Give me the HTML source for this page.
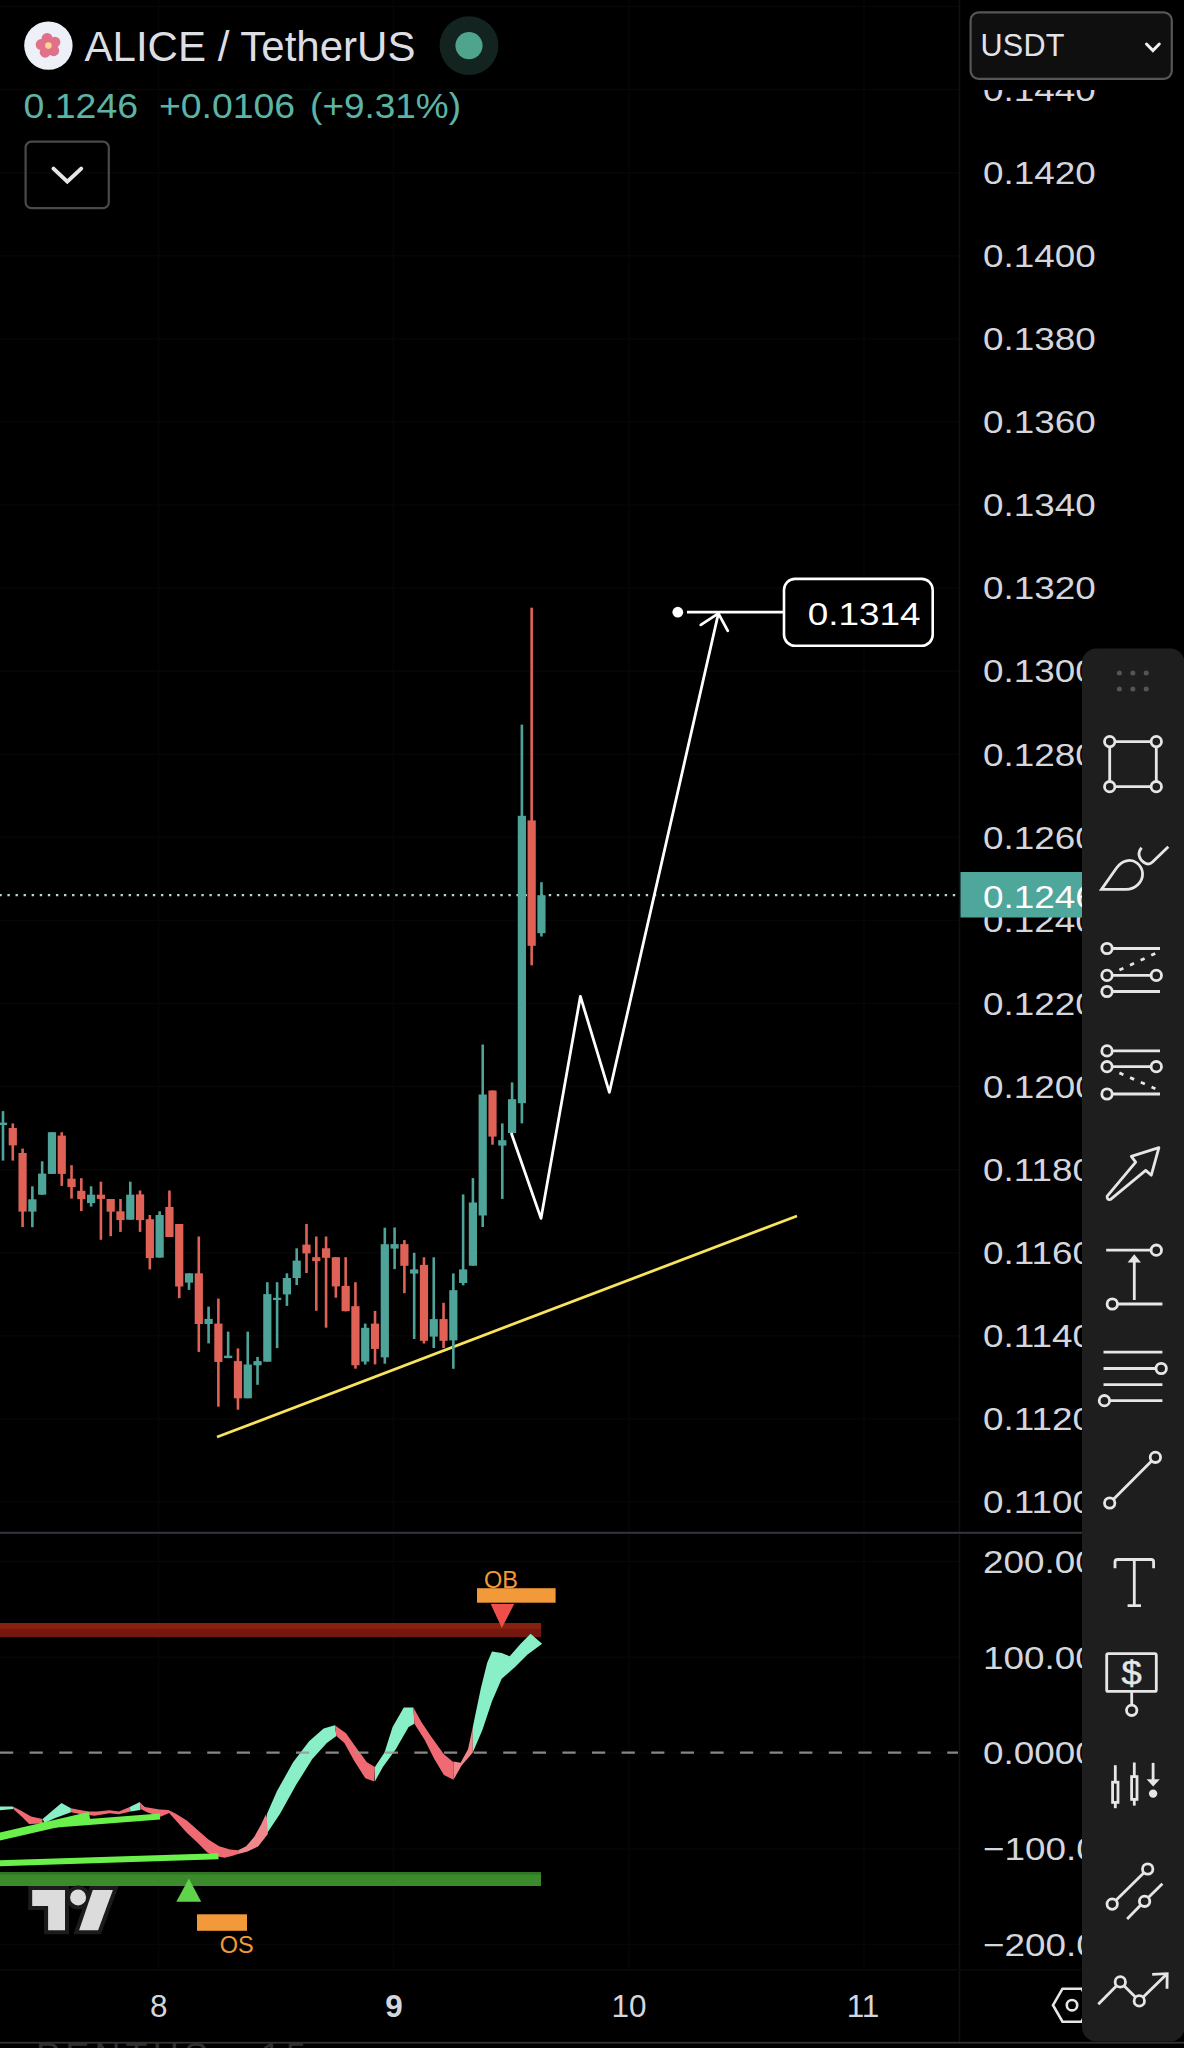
<!DOCTYPE html>
<html><head><meta charset="utf-8"><title>ALICE / TetherUS</title>
<style>
html,body{margin:0;padding:0;background:#000;}
body{width:1184px;height:2048px;overflow:hidden;font-family:"Liberation Sans",sans-serif;}
svg{display:block;font-family:"Liberation Sans",sans-serif;}
</style></head><body>
<svg width="1184" height="2048" viewBox="0 0 1184 2048">
<rect width="1184" height="2048" fill="#000"/>
<line x1="0" y1="6.5" x2="960" y2="6.5" stroke="#060607" stroke-width="1.5"/>
<line x1="0" y1="89.6" x2="960" y2="89.6" stroke="#060607" stroke-width="1.5"/>
<line x1="0" y1="172.7" x2="960" y2="172.7" stroke="#060607" stroke-width="1.5"/>
<line x1="0" y1="255.8" x2="960" y2="255.8" stroke="#060607" stroke-width="1.5"/>
<line x1="0" y1="338.9" x2="960" y2="338.9" stroke="#060607" stroke-width="1.5"/>
<line x1="0" y1="421.9" x2="960" y2="421.9" stroke="#060607" stroke-width="1.5"/>
<line x1="0" y1="505.0" x2="960" y2="505.0" stroke="#060607" stroke-width="1.5"/>
<line x1="0" y1="588.1" x2="960" y2="588.1" stroke="#060607" stroke-width="1.5"/>
<line x1="0" y1="671.2" x2="960" y2="671.2" stroke="#060607" stroke-width="1.5"/>
<line x1="0" y1="754.3" x2="960" y2="754.3" stroke="#060607" stroke-width="1.5"/>
<line x1="0" y1="837.3" x2="960" y2="837.3" stroke="#060607" stroke-width="1.5"/>
<line x1="0" y1="920.4" x2="960" y2="920.4" stroke="#060607" stroke-width="1.5"/>
<line x1="0" y1="1003.5" x2="960" y2="1003.5" stroke="#060607" stroke-width="1.5"/>
<line x1="0" y1="1086.6" x2="960" y2="1086.6" stroke="#060607" stroke-width="1.5"/>
<line x1="0" y1="1169.7" x2="960" y2="1169.7" stroke="#060607" stroke-width="1.5"/>
<line x1="0" y1="1252.7" x2="960" y2="1252.7" stroke="#060607" stroke-width="1.5"/>
<line x1="0" y1="1335.8" x2="960" y2="1335.8" stroke="#060607" stroke-width="1.5"/>
<line x1="0" y1="1418.9" x2="960" y2="1418.9" stroke="#060607" stroke-width="1.5"/>
<line x1="0" y1="1502.0" x2="960" y2="1502.0" stroke="#060607" stroke-width="1.5"/>
<line x1="0" y1="1561.4" x2="960" y2="1561.4" stroke="#060607" stroke-width="1.5"/>
<line x1="0" y1="1657.3" x2="960" y2="1657.3" stroke="#060607" stroke-width="1.5"/>
<line x1="0" y1="1753.1" x2="960" y2="1753.1" stroke="#060607" stroke-width="1.5"/>
<line x1="0" y1="1849.0" x2="960" y2="1849.0" stroke="#060607" stroke-width="1.5"/>
<line x1="0" y1="1944.5" x2="960" y2="1944.5" stroke="#060607" stroke-width="1.5"/>
<line x1="158.5" y1="0" x2="158.5" y2="1970" stroke="#060607" stroke-width="1.5"/>
<line x1="393.5" y1="0" x2="393.5" y2="1970" stroke="#060607" stroke-width="1.5"/>
<line x1="629" y1="0" x2="629" y2="1970" stroke="#060607" stroke-width="1.5"/>
<line x1="864" y1="0" x2="864" y2="1970" stroke="#060607" stroke-width="1.5"/>
<line x1="959.5" y1="0" x2="959.5" y2="2043" stroke="#0f1013" stroke-width="1.5"/>
<line x1="0" y1="1970" x2="1184" y2="1970" stroke="#0a0a0c" stroke-width="1.5"/>
<line x1="-0.66" y1="895.2" x2="958" y2="895.2" stroke="#b4dad4" stroke-width="2.3" stroke-dasharray="2.4 5.68"/>
<line x1="217" y1="1437" x2="797" y2="1216" stroke="#f7e35c" stroke-width="2.8"/>
<rect x="1.70" y="1111.1" width="2.6" height="49.5" fill="#4fa49a"/>
<rect x="-1.10" y="1122.6" width="8.2" height="2.4" fill="#4fa49a"/>
<rect x="11.49" y="1123.4" width="2.6" height="37.2" fill="#e06257"/>
<rect x="8.69" y="1128.0" width="8.2" height="17.4" fill="#e06257"/>
<rect x="21.28" y="1148.6" width="2.6" height="78.5" fill="#e06257"/>
<rect x="18.48" y="1153.0" width="8.2" height="58.6" fill="#e06257"/>
<rect x="31.07" y="1186.3" width="2.6" height="40.9" fill="#4fa49a"/>
<rect x="28.27" y="1199.3" width="8.2" height="12.3" fill="#4fa49a"/>
<rect x="40.86" y="1161.3" width="2.6" height="33.4" fill="#4fa49a"/>
<rect x="38.06" y="1173.6" width="8.2" height="21.1" fill="#4fa49a"/>
<rect x="50.65" y="1132.2" width="2.6" height="41.7" fill="#4fa49a"/>
<rect x="47.85" y="1132.2" width="8.2" height="41.7" fill="#4fa49a"/>
<rect x="60.44" y="1132.2" width="2.6" height="53.7" fill="#e06257"/>
<rect x="57.64" y="1135.6" width="8.2" height="38.3" fill="#e06257"/>
<rect x="70.23" y="1165.2" width="2.6" height="33.4" fill="#e06257"/>
<rect x="67.43" y="1178.7" width="8.2" height="8.4" fill="#e06257"/>
<rect x="80.02" y="1178.2" width="2.6" height="32.9" fill="#e06257"/>
<rect x="77.22" y="1190.8" width="8.2" height="8.4" fill="#e06257"/>
<rect x="89.81" y="1186.3" width="2.6" height="20.3" fill="#4fa49a"/>
<rect x="87.01" y="1194.7" width="8.2" height="8.4" fill="#4fa49a"/>
<rect x="99.60" y="1181.7" width="2.6" height="58.1" fill="#e06257"/>
<rect x="96.80" y="1194.7" width="8.2" height="4.2" fill="#e06257"/>
<rect x="109.39" y="1199.0" width="2.6" height="37.2" fill="#e06257"/>
<rect x="106.59" y="1199.0" width="8.2" height="12.7" fill="#e06257"/>
<rect x="119.18" y="1199.0" width="2.6" height="32.9" fill="#e06257"/>
<rect x="116.38" y="1211.3" width="8.2" height="8.8" fill="#e06257"/>
<rect x="128.97" y="1181.7" width="2.6" height="38.0" fill="#4fa49a"/>
<rect x="126.17" y="1194.7" width="8.2" height="25.0" fill="#4fa49a"/>
<rect x="138.76" y="1190.5" width="2.6" height="41.4" fill="#e06257"/>
<rect x="135.96" y="1194.4" width="8.2" height="25.7" fill="#e06257"/>
<rect x="148.55" y="1215.0" width="2.6" height="54.4" fill="#e06257"/>
<rect x="145.75" y="1219.2" width="8.2" height="38.9" fill="#e06257"/>
<rect x="158.34" y="1211.3" width="2.6" height="46.3" fill="#4fa49a"/>
<rect x="155.54" y="1215.0" width="8.2" height="42.6" fill="#4fa49a"/>
<rect x="168.13" y="1190.5" width="2.6" height="46.5" fill="#e06257"/>
<rect x="165.33" y="1206.9" width="8.2" height="30.1" fill="#e06257"/>
<rect x="177.92" y="1224.0" width="2.6" height="74.2" fill="#e06257"/>
<rect x="175.12" y="1224.0" width="8.2" height="62.5" fill="#e06257"/>
<rect x="187.71" y="1273.3" width="2.6" height="16.6" fill="#4fa49a"/>
<rect x="184.91" y="1273.3" width="8.2" height="9.3" fill="#4fa49a"/>
<rect x="197.50" y="1236.5" width="2.6" height="115.4" fill="#e06257"/>
<rect x="194.70" y="1273.3" width="8.2" height="50.7" fill="#e06257"/>
<rect x="207.29" y="1306.6" width="2.6" height="36.8" fill="#4fa49a"/>
<rect x="204.49" y="1318.9" width="8.2" height="5.1" fill="#4fa49a"/>
<rect x="217.08" y="1298.6" width="2.6" height="108.1" fill="#e06257"/>
<rect x="214.28" y="1323.6" width="8.2" height="38.3" fill="#e06257"/>
<rect x="226.87" y="1331.6" width="2.6" height="26.5" fill="#4fa49a"/>
<rect x="224.07" y="1355.7" width="8.2" height="2.4" fill="#4fa49a"/>
<rect x="236.66" y="1348.4" width="2.6" height="61.3" fill="#e06257"/>
<rect x="233.86" y="1361.1" width="8.2" height="37.2" fill="#e06257"/>
<rect x="246.45" y="1331.6" width="2.6" height="66.7" fill="#4fa49a"/>
<rect x="243.65" y="1364.5" width="8.2" height="33.8" fill="#4fa49a"/>
<rect x="256.24" y="1356.9" width="2.6" height="27.9" fill="#4fa49a"/>
<rect x="253.44" y="1361.1" width="8.2" height="4.2" fill="#4fa49a"/>
<rect x="266.03" y="1282.2" width="2.6" height="79.4" fill="#4fa49a"/>
<rect x="263.23" y="1294.1" width="8.2" height="67.6" fill="#4fa49a"/>
<rect x="275.82" y="1282.2" width="2.6" height="65.9" fill="#4fa49a"/>
<rect x="273.02" y="1297.8" width="8.2" height="2.2" fill="#4fa49a"/>
<rect x="285.61" y="1273.3" width="2.6" height="32.6" fill="#4fa49a"/>
<rect x="282.81" y="1278.0" width="8.2" height="16.4" fill="#4fa49a"/>
<rect x="295.40" y="1248.3" width="2.6" height="36.8" fill="#4fa49a"/>
<rect x="292.60" y="1260.6" width="8.2" height="17.4" fill="#4fa49a"/>
<rect x="305.19" y="1224.0" width="2.6" height="49.0" fill="#e06257"/>
<rect x="302.39" y="1244.6" width="8.2" height="8.8" fill="#e06257"/>
<rect x="314.98" y="1236.5" width="2.6" height="74.3" fill="#e06257"/>
<rect x="312.18" y="1257.2" width="8.2" height="3.9" fill="#e06257"/>
<rect x="324.77" y="1236.5" width="2.6" height="91.2" fill="#e06257"/>
<rect x="321.97" y="1248.3" width="8.2" height="9.5" fill="#e06257"/>
<rect x="334.56" y="1257.2" width="2.6" height="40.5" fill="#e06257"/>
<rect x="331.76" y="1257.2" width="8.2" height="29.2" fill="#e06257"/>
<rect x="344.35" y="1257.2" width="2.6" height="54.1" fill="#e06257"/>
<rect x="341.55" y="1285.9" width="8.2" height="25.3" fill="#e06257"/>
<rect x="354.14" y="1282.2" width="2.6" height="86.5" fill="#e06257"/>
<rect x="351.34" y="1306.2" width="8.2" height="59.1" fill="#e06257"/>
<rect x="363.93" y="1323.6" width="2.6" height="40.9" fill="#4fa49a"/>
<rect x="361.13" y="1327.8" width="8.2" height="33.8" fill="#4fa49a"/>
<rect x="373.72" y="1310.9" width="2.6" height="53.5" fill="#e06257"/>
<rect x="370.92" y="1323.6" width="8.2" height="25.3" fill="#e06257"/>
<rect x="383.51" y="1227.7" width="2.6" height="136.0" fill="#4fa49a"/>
<rect x="380.71" y="1244.2" width="8.2" height="113.2" fill="#4fa49a"/>
<rect x="393.30" y="1227.5" width="2.6" height="41.6" fill="#4fa49a"/>
<rect x="390.50" y="1244.1" width="8.2" height="4.5" fill="#4fa49a"/>
<rect x="403.09" y="1240.1" width="2.6" height="53.1" fill="#e06257"/>
<rect x="400.29" y="1244.1" width="8.2" height="21.7" fill="#e06257"/>
<rect x="412.88" y="1252.8" width="2.6" height="86.2" fill="#4fa49a"/>
<rect x="410.08" y="1269.4" width="8.2" height="4.2" fill="#4fa49a"/>
<rect x="422.67" y="1257.3" width="2.6" height="86.2" fill="#e06257"/>
<rect x="419.87" y="1264.9" width="8.2" height="75.9" fill="#e06257"/>
<rect x="432.46" y="1257.3" width="2.6" height="90.7" fill="#4fa49a"/>
<rect x="429.66" y="1319.1" width="8.2" height="17.5" fill="#4fa49a"/>
<rect x="442.25" y="1302.8" width="2.6" height="45.2" fill="#e06257"/>
<rect x="439.45" y="1319.1" width="8.2" height="21.7" fill="#e06257"/>
<rect x="452.04" y="1273.4" width="2.6" height="95.4" fill="#4fa49a"/>
<rect x="449.24" y="1290.2" width="8.2" height="50.2" fill="#4fa49a"/>
<rect x="461.83" y="1194.4" width="2.6" height="90.9" fill="#4fa49a"/>
<rect x="459.03" y="1269.4" width="8.2" height="13.6" fill="#4fa49a"/>
<rect x="471.62" y="1178.1" width="2.6" height="87.6" fill="#4fa49a"/>
<rect x="468.82" y="1202.5" width="8.2" height="63.2" fill="#4fa49a"/>
<rect x="481.41" y="1044.5" width="2.6" height="182.5" fill="#4fa49a"/>
<rect x="478.61" y="1094.5" width="8.2" height="121.0" fill="#4fa49a"/>
<rect x="491.20" y="1090.5" width="2.6" height="54.2" fill="#e06257"/>
<rect x="488.40" y="1090.5" width="8.2" height="46.1" fill="#e06257"/>
<rect x="500.99" y="1123.4" width="2.6" height="75.5" fill="#4fa49a"/>
<rect x="498.19" y="1140.2" width="8.2" height="5.4" fill="#4fa49a"/>
<rect x="510.78" y="1082.4" width="2.6" height="51.5" fill="#4fa49a"/>
<rect x="507.98" y="1099.2" width="8.2" height="33.8" fill="#4fa49a"/>
<rect x="520.57" y="724.6" width="2.6" height="398.8" fill="#4fa49a"/>
<rect x="517.77" y="815.8" width="8.2" height="287.4" fill="#4fa49a"/>
<rect x="530.36" y="607.7" width="2.6" height="357.6" fill="#e06257"/>
<rect x="527.56" y="820.4" width="8.2" height="125.4" fill="#e06257"/>
<rect x="540.15" y="882.2" width="2.6" height="54.3" fill="#4fa49a"/>
<rect x="537.35" y="895.2" width="8.2" height="38.0" fill="#4fa49a"/>
<polyline points="511.6,1134 541,1218.4 580.4,996.3 609.4,1092.3 718.2,614.2" fill="none" stroke="#ffffff" stroke-width="2.8" stroke-linejoin="round" stroke-linecap="round"/>
<polyline points="700.8,624.9 718.4,613.4 727.8,630.8" fill="none" stroke="#ffffff" stroke-width="2.8" stroke-linejoin="miter" stroke-linecap="round"/>
<circle cx="677.8" cy="612.2" r="5.4" fill="#fff"/>
<line x1="687" y1="612.2" x2="784" y2="612.2" stroke="#fff" stroke-width="2.8"/>
<rect x="784" y="578.9" width="148.7" height="66.8" rx="11" ry="11" fill="#000" stroke="#fff" stroke-width="2.6"/>
<text transform="scale(1.152,1)" x="701.22" y="625.4" font-size="32" fill="#ffffff">0.1314</text>
<rect x="0" y="1531.8" width="1184" height="2" fill="#34353f"/>
<rect x="0" y="1623" width="541" height="14" fill="#75170e"/>
<rect x="0" y="1623" width="541" height="6" fill="#86200f"/>
<rect x="0" y="1872" width="541" height="14" fill="#3b8a2c"/>
<rect x="0" y="1872" width="541" height="2.5" fill="#2f7524"/>
<polygon points="0.0,1806.5 12.8,1806.5 13.5,1808.9 0.0,1810.3" fill="#88efc6"/>
<polygon points="12.8,1806.5 20.3,1810.3 31.1,1816.4 42.6,1819.1 42.2,1823.5 29.1,1824.1 21.6,1816.4 13.5,1809.2" fill="#ef6a73"/>
<polygon points="42.6,1819.1 61.5,1803.1 70.9,1808.2 70.9,1812.3 54.1,1818.4 44.6,1823.1" fill="#88efc6"/>
<polygon points="70.9,1808.2 81.1,1810.3 89.2,1811.4 97.3,1811.6 109.5,1810.3 118.9,1811.4 129.7,1806.9 130.4,1811.6 118.9,1814.3 109.5,1813.2 94.6,1815.7 81.1,1814.3 70.9,1812.3" fill="#ef6a73"/>
<polygon points="129.7,1806.9 139.9,1801.9 140.5,1810.0 130.4,1811.6" fill="#88efc6"/>
<polygon points="139.7,1802.3 144.9,1807.0 159.7,1809.5 168.5,1810.0 175.9,1813.8 186.8,1820.5 197.6,1830.0 208.4,1839.5 219.2,1846.2 230.0,1849.6 238.1,1850.3 238.1,1854.1 232.7,1855.7 224.6,1857.7 213.8,1855.7 207.0,1852.3 197.6,1842.8 186.8,1832.7 175.9,1820.5 169.2,1813.1 160.4,1816.8 147.6,1812.4 140.8,1809.1" fill="#ef6a73"/>
<polygon points="238.1,1850.3 246.2,1846.2 254.3,1836.8 261.1,1824.6 265.8,1814.5 267.8,1820.5 267.8,1834.1 258.4,1846.2 247.6,1851.6 238.1,1854.1" fill="#f0878d"/>
<polygon points="266.8,1814.2 277.0,1791.1 293.1,1762.2 309.1,1741.3 323.6,1728.5 334.8,1725.3 336.4,1735.9 326.8,1742.9 312.3,1759.0 296.3,1784.6 280.2,1813.5 267.4,1832.8" fill="#88efc6"/>
<polygon points="334.8,1725.3 346.0,1733.3 357.3,1749.3 366.9,1762.2 374.9,1767.0 374.3,1781.4 365.3,1778.2 354.0,1760.6 344.4,1742.9 336.4,1735.9" fill="#ef6a73"/>
<polygon points="374.9,1767.0 384.5,1752.6 392.6,1726.9 403.8,1707.6 413.4,1707.6 414.4,1723.7 408.6,1726.9 395.8,1749.3 382.9,1767.0 374.9,1781.4" fill="#88efc6"/>
<polygon points="413.4,1707.6 421.4,1722.1 431.1,1736.5 443.9,1754.2 453.5,1762.2 453.5,1779.8 443.9,1775.0 434.3,1759.0 424.6,1739.7 414.4,1723.7" fill="#ef6a73"/>
<polygon points="453.5,1761.5 460.6,1762.8 468.0,1749.3 472.8,1726.9 472.8,1752.6 461.6,1765.4 453.5,1779.8" fill="#f0878d"/>
<polygon points="472.8,1726.9 480.8,1688.4 487.2,1662.7 492.0,1651.5 501.7,1653.1 509.7,1656.3 520.9,1643.4 530.6,1633.8 541.8,1643.4 541.8,1644.1 527.3,1654.7 514.5,1667.5 501.7,1678.7 492.0,1701.2 482.4,1730.1 472.8,1752.6" fill="#88efc6"/>
<line x1="0" y1="1752.6" x2="958" y2="1752.6" stroke="#9a9a9a" stroke-opacity="0.88" stroke-width="2.4" stroke-dasharray="13.2 16.4"/>
<line x1="-2" y1="1836.96" x2="89.5" y2="1815.9" stroke="#6af04a" stroke-width="7.8"/>
<line x1="40" y1="1825.8" x2="160" y2="1816.4" stroke="#6af04a" stroke-width="6"/>
<line x1="-2" y1="1863.2" x2="218.5" y2="1856.3" stroke="#6af04a" stroke-width="6"/>
<rect x="477" y="1588.2" width="78.6" height="14.5" fill="#f29a3a"/>
<text x="484" y="1588" font-size="23.5" fill="#f29a3a">OB</text>
<polygon points="490.7,1604 514.2,1604 501.8,1628" fill="#ee4f4a"/>
<polygon points="176.3,1901.7 201.2,1901.7 188.9,1878.5" fill="#5fd44a"/>
<rect x="197" y="1914.3" width="50" height="16.5" fill="#f29a3a"/>
<text x="219.8" y="1952.8" font-size="23.5" fill="#f29a3a">OS</text>
<g stroke="#1b1b1b" stroke-width="8" stroke-linejoin="miter" fill="#1b1b1b"><path d="M32.2 1890H65V1930.2H48.1V1905.9H32.2Z"/><circle cx="78.1" cy="1897.4" r="8"/><path d="M92.8 1890H112.9L98.1 1930.2H79.1Z"/></g>
<g fill="#dcdcdc"><path d="M32.2 1890H65V1930.2H48.1V1905.9H32.2Z"/><circle cx="78.1" cy="1897.4" r="8"/><path d="M92.8 1890H112.9L98.1 1930.2H79.1Z"/></g>
<text transform="scale(1.152,1)" x="853.30" y="100.9" font-size="32" fill="#d4d6dd">0.1440</text>
<text transform="scale(1.152,1)" x="853.30" y="184.0" font-size="32" fill="#d4d6dd">0.1420</text>
<text transform="scale(1.152,1)" x="853.30" y="267.1" font-size="32" fill="#d4d6dd">0.1400</text>
<text transform="scale(1.152,1)" x="853.30" y="350.2" font-size="32" fill="#d4d6dd">0.1380</text>
<text transform="scale(1.152,1)" x="853.30" y="433.2" font-size="32" fill="#d4d6dd">0.1360</text>
<text transform="scale(1.152,1)" x="853.30" y="516.3" font-size="32" fill="#d4d6dd">0.1340</text>
<text transform="scale(1.152,1)" x="853.30" y="599.4" font-size="32" fill="#d4d6dd">0.1320</text>
<text transform="scale(1.152,1)" x="853.30" y="682.5" font-size="32" fill="#d4d6dd">0.1300</text>
<text transform="scale(1.152,1)" x="853.30" y="765.6" font-size="32" fill="#d4d6dd">0.1280</text>
<text transform="scale(1.152,1)" x="853.30" y="848.6" font-size="32" fill="#d4d6dd">0.1260</text>
<text transform="scale(1.152,1)" x="853.30" y="931.7" font-size="32" fill="#d4d6dd">0.1240</text>
<text transform="scale(1.152,1)" x="853.30" y="1014.8" font-size="32" fill="#d4d6dd">0.1220</text>
<text transform="scale(1.152,1)" x="853.30" y="1097.9" font-size="32" fill="#d4d6dd">0.1200</text>
<text transform="scale(1.152,1)" x="853.30" y="1181.0" font-size="32" fill="#d4d6dd">0.1180</text>
<text transform="scale(1.152,1)" x="853.30" y="1264.0" font-size="32" fill="#d4d6dd">0.1160</text>
<text transform="scale(1.152,1)" x="853.30" y="1347.1" font-size="32" fill="#d4d6dd">0.1140</text>
<text transform="scale(1.152,1)" x="853.30" y="1430.2" font-size="32" fill="#d4d6dd">0.1120</text>
<text transform="scale(1.152,1)" x="853.30" y="1513.3" font-size="32" fill="#d4d6dd">0.1100</text>
<rect x="960.5" y="872" width="224" height="45.5" fill="#4fa69b"/>
<text transform="scale(1.152,1)" x="853.30" y="908.3" font-size="32" fill="#ffffff">0.1246</text>
<text transform="scale(1.152,1)" x="853.30" y="1572.7" font-size="32" fill="#d4d6dd">200.00</text>
<text transform="scale(1.152,1)" x="853.30" y="1668.6" font-size="32" fill="#d4d6dd">100.00</text>
<text transform="scale(1.152,1)" x="853.30" y="1764.4" font-size="32" fill="#d4d6dd">0.0000</text>
<text transform="scale(1.152,1)" x="853.30" y="1860.3" font-size="32" fill="#d4d6dd">−100.0</text>
<text transform="scale(1.152,1)" x="853.30" y="1955.8" font-size="32" fill="#d4d6dd">−200.0</text>
<text x="158.8" y="2017.3" font-size="31.5" fill="#d4d6dd" text-anchor="middle">8</text>
<text x="394" y="2017.3" font-size="31.5" fill="#d4d6dd" text-anchor="middle" font-weight="bold">9</text>
<text x="629" y="2017.3" font-size="31.5" fill="#d4d6dd" text-anchor="middle">10</text>
<text x="863" y="2017.3" font-size="31.5" fill="#d4d6dd" text-anchor="middle">11</text>
<polygon points="1091.0,2005.2 1081.5,2021.7 1062.5,2021.7 1053.0,2005.2 1062.5,1988.7 1081.5,1988.7" fill="none" stroke="#e6e6e6" stroke-width="2.6"/>
<circle cx="1072" cy="2005.2" r="5.2" fill="none" stroke="#e6e6e6" stroke-width="2.6"/>
<rect x="0" y="2041.8" width="1184" height="1.8" fill="#343434"/>
<text x="36" y="2069" font-size="36" fill="#303030" textLength="270" lengthAdjust="spacing">PENTUS · 15</text>
<circle cx="48.4" cy="45.6" r="24.2" fill="#eef0f7"/>
<circle cx="47.13" cy="38.41" r="5.5" fill="#e0718a"/><circle cx="54.85" cy="42.17" r="5.5" fill="#e0718a"/><circle cx="53.65" cy="50.67" r="5.5" fill="#e0718a"/><circle cx="45.20" cy="52.16" r="5.5" fill="#e0718a"/><circle cx="41.17" cy="44.58" r="5.5" fill="#e0718a"/><circle cx="48.4" cy="45.6" r="3.3" fill="#fbd48f"/>
<text x="84.5" y="61.3" font-size="43" fill="#dddee4" textLength="331" lengthAdjust="spacingAndGlyphs">ALICE / TetherUS</text>
<circle cx="469" cy="45.6" r="29.4" fill="#13231f"/><circle cx="469" cy="45.6" r="13.6" fill="#4ea48c"/>
<text x="23.5" y="118.4" font-size="35" fill="#5db4a5" textLength="114.6" lengthAdjust="spacingAndGlyphs">0.1246</text>
<text x="158.9" y="118.4" font-size="35" fill="#5db4a5" textLength="136.2" lengthAdjust="spacingAndGlyphs">+0.0106</text>
<text x="310.1" y="118.4" font-size="35" fill="#5db4a5" textLength="150.9" lengthAdjust="spacingAndGlyphs">(+9.31%)</text>
<rect x="25.6" y="141.6" width="83.2" height="66.6" rx="6" fill="none" stroke="#4a4a4a" stroke-width="2.2"/>
<polyline points="53.5,168.6 67.3,181.6 81.2,168.6" fill="none" stroke="#e6e6e6" stroke-width="4" stroke-linecap="round" stroke-linejoin="miter"/>
<rect x="961" y="0" width="223" height="90" fill="#000"/>
<rect x="970.6" y="12.4" width="201.2" height="66.4" rx="8" fill="#0f0f0f" stroke="#565656" stroke-width="2.2"/>
<text x="980.5" y="56.2" font-size="30.6" fill="#e2e3e8" textLength="84" lengthAdjust="spacing">USDT</text>
<polyline points="1146.5,44 1152.9,50.6 1159.3,44" fill="none" stroke="#f0f0f0" stroke-width="3" stroke-linecap="round" stroke-linejoin="miter"/>
<rect x="1082" y="648.5" width="102.7" height="1393" rx="14.5" fill="#1e1e1e"/>
<circle cx="1119.4" cy="672.9" r="2.5" fill="#555"/>
<circle cx="1132.9" cy="672.9" r="2.5" fill="#555"/>
<circle cx="1146.2" cy="672.9" r="2.5" fill="#555"/>
<circle cx="1119.4" cy="688.9" r="2.5" fill="#555"/>
<circle cx="1132.9" cy="688.9" r="2.5" fill="#555"/>
<circle cx="1146.2" cy="688.9" r="2.5" fill="#555"/>
<g fill="none" stroke="#e6e6e6" stroke-width="2.8"><circle cx="1109.7" cy="741.6" r="5.2"/><circle cx="1156.3" cy="741.6" r="5.2"/><circle cx="1109.7" cy="786.7" r="5.2"/><circle cx="1156.3" cy="786.7" r="5.2"/><line x1="1115" y1="741.6" x2="1151" y2="741.6" /><line x1="1115" y1="786.7" x2="1151" y2="786.7" /><line x1="1109.7" y1="747" x2="1109.7" y2="781.4" /><line x1="1156.3" y1="747" x2="1156.3" y2="781.4" /><path d="M1101.5 889.4 L1116.5 868 C1122 860 1131 858.5 1137 863 C1144 868.5 1144.5 878 1138 884.5 C1134.5 888 1130 889.4 1126 889.4 Z"/><path d="M1141.6 847.8 C1137 853 1139 859 1144 862.5 C1147 864.6 1150 864.5 1152.5 862 L1168.3 846.8"/><circle cx="1107" cy="948.5" r="5.2"/><line x1="1112.5" y1="948.5" x2="1160" y2="948.5" /><line x1="1119.4" y1="970.1" x2="1155.4" y2="953.4" stroke-dasharray="4.4 7.3"/><circle cx="1107" cy="975.4" r="5.2"/><circle cx="1156.3" cy="975.4" r="5.2"/><line x1="1112.5" y1="975.4" x2="1151" y2="975.4" /><circle cx="1107" cy="991.5" r="5.2"/><line x1="1112.5" y1="991.5" x2="1160" y2="991.5" /><circle cx="1107" cy="1050.9" r="5.2"/><line x1="1112.5" y1="1050.9" x2="1160" y2="1050.9" /><circle cx="1107" cy="1066.7" r="5.2"/><circle cx="1156.3" cy="1066.7" r="5.2"/><line x1="1112.5" y1="1066.7" x2="1151" y2="1066.7" /><line x1="1119.4" y1="1072.9" x2="1155.4" y2="1088.7" stroke-dasharray="4.4 7.3"/><circle cx="1107" cy="1094" r="5.2"/><line x1="1112.5" y1="1094" x2="1160" y2="1094" /><path d="M1107.2 1196.2 L1135.7 1162.2 L1131.3 1156.4 L1158.9 1147.6 L1151.3 1175.2 L1145.7 1170.4 L1110.6 1199.4 Q1106.5 1200.2 1107.2 1196.2 Z" stroke-linejoin="round"/><line x1="1106.2" y1="1250.2" x2="1151" y2="1250.2" /><circle cx="1156.3" cy="1250.2" r="5.2"/><path d="M1134.3 1254.3 L1141 1262.4 H1127.6 Z" fill="#e6e6e6" stroke="none"/><line x1="1134.3" y1="1262" x2="1134.3" y2="1300" /><circle cx="1112.3" cy="1304" r="5.2"/><line x1="1117.8" y1="1304" x2="1162.4" y2="1304" /><line x1="1103.5" y1="1352.2" x2="1162.4" y2="1352.2" /><line x1="1103.5" y1="1368.5" x2="1155.8" y2="1368.5" /><circle cx="1161.2" cy="1368.5" r="5.2"/><line x1="1103.5" y1="1384.7" x2="1162.4" y2="1384.7" /><circle cx="1104.4" cy="1400.7" r="5.2"/><line x1="1109.9" y1="1400.7" x2="1162.4" y2="1400.7" /><circle cx="1155.4" cy="1457.3" r="5.2"/><circle cx="1109.7" cy="1503" r="5.2"/><line x1="1151.6" y1="1461.1" x2="1113.5" y2="1499.2" /><path d="M1115 1568.3 V1562 Q1115 1559.5 1117.5 1559.5 H1151.1 Q1153.6 1559.5 1153.6 1562 V1568.3 M1134.3 1559.5 V1605.6 M1127.6 1605.6 H1141"/><rect x="1106.7" y="1653.6" width="49.6" height="37.8" rx="1.5"/><line x1="1131.7" y1="1691.4" x2="1131.7" y2="1704.8" /><circle cx="1131.7" cy="1710.3" r="5.2"/><line x1="1115.3" y1="1765.2" x2="1115.3" y2="1782" /><line x1="1115.3" y1="1802.4" x2="1115.3" y2="1808.2" /><rect x="1112.6" y="1782.2" width="5.4" height="20.2"/><line x1="1134.3" y1="1762.5" x2="1134.3" y2="1776.6" /><line x1="1134.3" y1="1799.4" x2="1134.3" y2="1805.6" /><rect x="1131.6" y="1776.6" width="5.4" height="22.8"/><line x1="1153.1" y1="1762.9" x2="1153.1" y2="1780" /><path d="M1146.6 1779.2 H1159.8 L1153.2 1786.6 Z" fill="#e6e6e6" stroke="none"/><circle cx="1153.1" cy="1793.6" r="4.2" fill="#e6e6e6" stroke="none"/><circle cx="1147.7" cy="1869" r="5.2"/><circle cx="1112.2" cy="1904.1" r="5.2"/><line x1="1143.9" y1="1872.8" x2="1116" y2="1900.3" /><circle cx="1144.6" cy="1901.3" r="5.2"/><line x1="1162.4" y1="1883.8" x2="1148.4" y2="1897.6" /><line x1="1140.8" y1="1905.1" x2="1127.1" y2="1919.1" /><line x1="1098.3" y1="2004.3" x2="1116.6" y2="1985.7" /><circle cx="1120.3" cy="1981.9" r="5.2"/><line x1="1124" y1="1985.7" x2="1135.6" y2="1997.2" /><circle cx="1139.3" cy="2000.9" r="5.2"/><line x1="1143" y1="1997.2" x2="1166.6" y2="1974.3" /><polyline points="1152.2,1974.3 1167.2,1973.7 1167,1988.7"/></g>
<text x="1028.82" y="1684.2" transform="scale(1.1,1)" font-size="33" fill="#e6e6e6" stroke="#e6e6e6" stroke-width="0.5" text-anchor="middle">$</text>
</svg>
</body></html>
